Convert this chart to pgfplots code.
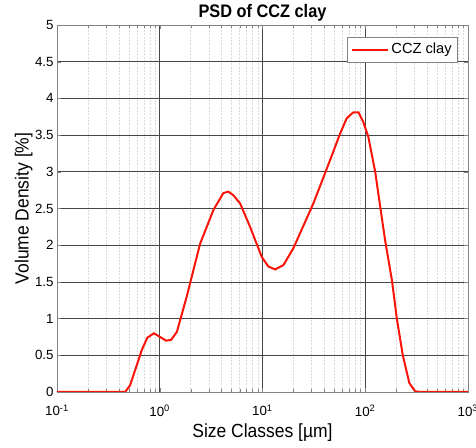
\documentclass[border=0pt]{standalone}
\usepackage{pgfplots}
\pgfplotsset{compat=1.18}
\usepackage{fontspec}
\setmainfont{Liberation Sans}
\newfontfamily\labelfont[FakeStretch=0.92]{Liberation Sans}
\newfontfamily\titlefont[FakeStretch=0.9]{Liberation Sans}
\definecolor{majgrid}{RGB}{70,70,70}
\definecolor{mingrid}{RGB}{218,218,218}
\definecolor{axcol}{RGB}{130,130,130}
\definecolor{psdred}{RGB}{250,20,10}
\begin{document}
\begin{tikzpicture}
\useasboundingbox (-42.75pt,-42pt) rectangle (314.25pt,294pt);
\begin{axis}[
  at={(0,0)}, anchor=south west,
  scale only axis, width=308.25pt, height=275.25pt,
  xmode=log, xmin=0.1, xmax=1000, ymin=0, ymax=5,
  xtick={0.1,1,10,100,1000},
  xticklabels={10\textsuperscript{-1},10\textsuperscript{0},10\textsuperscript{1},10\textsuperscript{2},10\textsuperscript{3}},
  ytick={0,0.5,...,5},
  yticklabels={0,0.5,1,1.5,2,2.5,3,3.5,4,4.5,5},
  /pgf/number format/assume math mode=true,
  tick label style={font=\fontsize{10}{12}\selectfont},
  xticklabel style={yshift=-6pt},
  yticklabel style={xshift=1pt},
  xlabel={Size Classes [µm]}, ylabel={Volume Density [\%]},
  label style={font=\labelfont\fontsize{14.25}{16}\selectfont},
  title={\textbf{PSD of CCZ clay}},
  title style={font=\titlefont\fontsize{13.6}{15}\selectfont, yshift=-7pt},
  xlabel style={yshift=1pt},
  ylabel style={yshift=-5pt},
  grid=both,
  major grid style={color=majgrid, line width=0.5pt},
  minor grid style={color=mingrid, dash pattern=on 1.5pt off 1pt, line width=0.4pt},
  minor y tick num=0,
  axis line style={color=axcol, line width=0.6pt},
  tick style={color=axcol},
  tick align=inside,
  major tick length=3pt, minor tick length=2pt,
  legend style={at={(1,1)}, anchor=north east, xshift=-7.5pt, yshift=-9pt,
    font=\fontsize{11}{13}\selectfont, draw=axcol, fill=white, inner sep=2.5pt},
  legend image code/.code={\draw[#1] (0pt,0pt) -- (27pt,0pt);},
  legend cell align=left,
]
\addplot[color=psdred, line width=1.5pt] coordinates {
(0.1,0) (0.2,0) (0.3,0) (0.4,0) (0.46,0) (0.514,0.09) (0.668,0.57) (0.757,0.74) (0.879,0.80)
(1.15,0.70) (1.29,0.71) (1.47,0.82) (1.83,1.30) (2.47,2.02) (3.33,2.48) (4.16,2.71)
(4.65,2.73) (5.21,2.68) (6.05,2.57) (7.57,2.25) (9.84,1.84) (11.4,1.71) (13.3,1.67)
(16.0,1.73) (20.0,1.96) (31.3,2.57) (45.5,3.16) (56.9,3.52) (66.1,3.73) (76.7,3.81)
(86.0,3.81) (95.6,3.68) (107,3.48) (125,3.0) (140,2.52) (156,2.07) (182,1.52)
(203,1.0) (232,0.50) (269,0.12) (306,0.01) (350,0) (500,0) (1000,0)
};
\addlegendentry{CCZ clay}
\end{axis}
\end{tikzpicture}
\end{document}
